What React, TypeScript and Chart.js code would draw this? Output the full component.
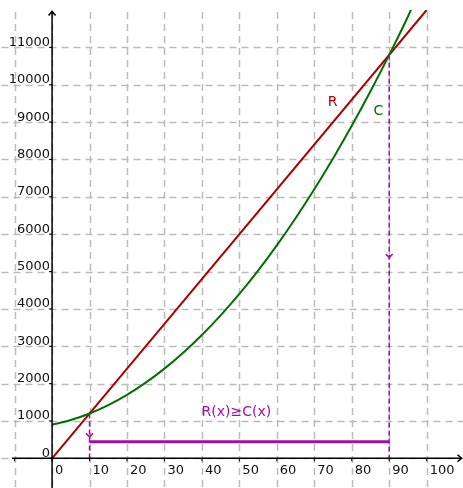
import React, { useEffect, useRef } from "react";
import { Chart, registerables } from "chart.js";

Chart.register(...registerables);

// Data
const xGrid = [-10, 0, 10, 20, 30, 40, 50, 60, 70, 80, 90, 100];
const xTickLabels = ["0", "10", "20", "30", "40", "50", "60", "70", "80", "90", "100"];
const xTickValues = [0, 10, 20, 30, 40, 50, 60, 70, 80, 90, 100];
const yTickValues = [0, 1000, 2000, 3000, 4000, 5000, 6000, 7000, 8000, 9000, 10000, 11000];
const yTickLabels = ["0", "1000", "2000", "3000", "4000", "5000", "6000", "7000", "8000", "9000", "10000", "11000"];

const revenueX = [0, 100];
const revenueY = [0, 12000];

const costX = [0, 5, 10, 15, 20, 25, 30, 35, 40, 45, 50, 55, 60, 65, 70, 75, 80, 85, 90, 95, 100];
const costY = [900, 1025, 1200, 1425, 1700, 2025, 2400, 2825, 3300, 3825, 4400, 5025, 5700, 6425, 7200, 8025, 8900, 9825, 10800, 11825, 13000];

const leftBreakX = [10, 10];
const leftBreakY = [1200, 0];
const rightBreakX = [90, 90];
const rightBreakY = [10800, 0];
const rangeX = [10, 90];
const rangeY = [440, 440];

const RED = "#aa0000";
const GREEN = "#007000";
const PURPLE = "#a010a0";
const FONT = '"DejaVu Sans", sans-serif';

const zip = (xs: number[], ys: number[]) => xs.map((x, i) => ({ x, y: ys[i] }));

const decorPlugin = {
  id: "decor",
  beforeDatasetsDraw(chart: any) {
    const { ctx, scales } = chart;
    const xs = scales.x;
    const ys = scales.y;
    const W = chart.width;
    const H = chart.height;
    const top = ys.getPixelForValue(12000);
    ctx.save();
    ctx.strokeStyle = "#bbbbbb";
    ctx.lineWidth = 1.5;
    ctx.setLineDash([7, 5]);
    xGrid.forEach((v) => {
      const px = Math.round(xs.getPixelForValue(v)) + 0.5;
      ctx.beginPath();
      ctx.moveTo(px, top + 2);
      ctx.lineTo(px, H);
      ctx.stroke();
    });
    yTickValues.forEach((v) => {
      const py = Math.round(ys.getPixelForValue(v)) + 0.5;
      ctx.beginPath();
      ctx.moveTo(xs.getPixelForValue(-13.5), py);
      ctx.lineTo(W, py);
      ctx.stroke();
    });
    ctx.restore();
  },
  afterDatasetsDraw(chart: any) {
    const { ctx, scales } = chart;
    const xs = scales.x;
    const ys = scales.y;
    const H = chart.height;
    const x0 = xs.getPixelForValue(0);
    const y0 = ys.getPixelForValue(0);
    ctx.save();
    // axes
    ctx.strokeStyle = "#000";
    ctx.lineWidth = 1.5;
    ctx.setLineDash([]);
    const yTip = ys.getPixelForValue(12000) + 1.5;
    ctx.beginPath();
    ctx.moveTo(x0, H);
    ctx.lineTo(x0, yTip);
    ctx.stroke();
    ctx.beginPath();
    ctx.moveTo(x0 - 3.5, yTip + 4);
    ctx.lineTo(x0, yTip);
    ctx.lineTo(x0 + 3.5, yTip + 4);
    ctx.stroke();
    const xTip = xs.getPixelForValue(109.3);
    ctx.beginPath();
    ctx.moveTo(xs.getPixelForValue(-10.7), y0);
    ctx.lineTo(xTip, y0);
    ctx.stroke();
    ctx.beginPath();
    ctx.moveTo(xTip - 4, y0 - 3.5);
    ctx.lineTo(xTip, y0);
    ctx.lineTo(xTip - 4, y0 + 3.5);
    ctx.stroke();
    // small ticks
    ctx.lineWidth = 1;
    yTickValues.forEach((v) => {
      const py = ys.getPixelForValue(v);
      ctx.beginPath();
      ctx.moveTo(x0 - 3, py);
      ctx.lineTo(x0, py);
      ctx.stroke();
    });
    xGrid.forEach((v) => {
      const px = xs.getPixelForValue(v);
      ctx.beginPath();
      ctx.moveTo(px, y0);
      ctx.lineTo(px, y0 + 3);
      ctx.stroke();
    });
    // tick labels
    ctx.fillStyle = "#111";
    ctx.font = `13px ${FONT}`;
    ctx.textAlign = "right";
    ctx.textBaseline = "alphabetic";
    yTickValues.forEach((v, i) => {
      ctx.fillText(yTickLabels[i], x0 - 2, ys.getPixelForValue(v) - 1.5);
    });
    ctx.textAlign = "left";
    xTickValues.forEach((v, i) => {
      ctx.fillText(xTickLabels[i], xs.getPixelForValue(v) + 3, y0 + 16);
    });
    // mid arrows on dashed lines
    ctx.strokeStyle = PURPLE;
    ctx.lineWidth = 1.5;
    const chevron = (xv: number, yv: number) => {
      const px = xs.getPixelForValue(xv);
      const py = ys.getPixelForValue(yv);
      ctx.beginPath();
      ctx.moveTo(px - 3.5, py - 2.5);
      ctx.lineTo(px, py + 1);
      ctx.lineTo(px + 3.5, py - 2.5);
      ctx.stroke();
    };
    chevron(10, 600);
    chevron(90, 5400);
    // text labels
    ctx.font = `14px ${FONT}`;
    ctx.textAlign = "left";
    ctx.fillStyle = RED;
    ctx.fillText("R", xs.getPixelForValue(73.6), ys.getPixelForValue(9430));
    ctx.fillStyle = GREEN;
    ctx.fillText("C", xs.getPixelForValue(85.8), ys.getPixelForValue(9200));
    ctx.fillStyle = PURPLE;
    ctx.fillText("R(x)≥C(x)", xs.getPixelForValue(39.9), ys.getPixelForValue(1140));
    ctx.restore();
  },
};

export default function App() {
  const ref = useRef<HTMLCanvasElement | null>(null);
  useEffect(() => {
    document.body.style.margin = "0";
    if (!ref.current) return;
    const chart = new Chart(ref.current, {
      type: "scatter",
      data: {
        datasets: [
          {
            label: "range",
            data: zip(rangeX, rangeY),
            showLine: true,
            borderColor: PURPLE,
            borderWidth: 3,
            pointRadius: 0,
          },
          {
            label: "left",
            data: zip(leftBreakX, leftBreakY),
            showLine: true,
            borderColor: PURPLE,
            borderWidth: 1.5,
            borderDash: [5, 3],
            pointRadius: 0,
          },
          {
            label: "right",
            data: zip(rightBreakX, rightBreakY),
            showLine: true,
            borderColor: PURPLE,
            borderWidth: 1.5,
            borderDash: [5, 3],
            pointRadius: 0,
          },
          {
            label: "C",
            data: zip(costX, costY),
            showLine: true,
            borderColor: GREEN,
            borderWidth: 2,
            pointRadius: 0,
            cubicInterpolationMode: "monotone",
          },
          {
            label: "R",
            data: zip(revenueX, revenueY),
            showLine: true,
            borderColor: RED,
            borderWidth: 2,
            pointRadius: 0,
          },
        ],
      },
      options: {
        responsive: false,
        animation: false,
        devicePixelRatio: 1,
        layout: { padding: { top: 10, left: 0, right: 0, bottom: 0 } },
        plugins: { legend: { display: false }, tooltip: { enabled: false } },
        scales: {
          x: { type: "linear", display: false, min: -13.9, max: 109.7 },
          y: { type: "linear", display: false, min: -795, max: 12000 },
        },
      },
      plugins: [decorPlugin],
    } as any);
    return () => chart.destroy();
  }, []);
  return (
    <div style={{ position: "absolute", left: 0, top: 0, width: 463, height: 488 }}>
      <canvas ref={ref} width={463} height={488} />
    </div>
  );
}
